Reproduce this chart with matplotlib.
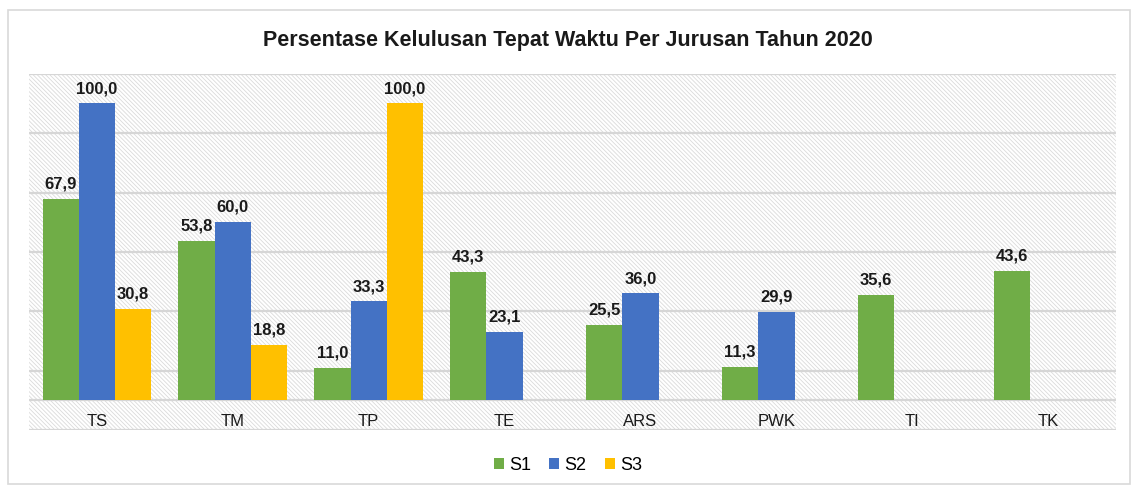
import numpy as np
import matplotlib.pyplot as plt
from matplotlib.patches import Rectangle

plt.rcParams['font.family'] = ['Liberation Sans', 'DejaVu Sans']
plt.rcParams['hatch.color'] = '#dadada'
plt.rcParams['hatch.linewidth'] = 0.6

jurusan = ['TS', 'TM', 'TP', 'TE', 'ARS', 'PWK', 'TI', 'TK']
s1 = [67.9, 53.8, 11.0, 43.3, 25.5, 11.3, 35.6, 43.6]
s2 = [100.0, 60.0, 33.3, 23.1, 36.0, 29.9, None, None]
s3 = [30.8, 18.8, 100.0, None, None, None, None, None]
seri = ['S1', 'S2', 'S3']
warna = ['#70ad47', '#4472c4', '#ffc000']

fig = plt.figure(figsize=(11.36, 4.9), dpi=100)
fig.patches.append(Rectangle((0.007, 0.012), 0.988, 0.968, transform=fig.transFigure,
                             fill=False, edgecolor='#d9d9d9', linewidth=1.2))
ax = fig.add_axes([0.0255, 0.1224, 0.957, 0.727])

# latar belakang bergaris miring
ax.add_patch(Rectangle((0, 0), 1, 1, transform=ax.transAxes, facecolor='white',
                       hatch='\\' * 8, edgecolor='#dadada', linewidth=0, zorder=0))

x = np.arange(len(jurusan))
w = 0.8 / 3
for k, data in enumerate([s1, s2, s3]):
    xs = [x[i] + (k - 1) * w for i in range(len(data)) if data[i] is not None]
    vals = [v for v in data if v is not None]
    ax.bar(xs, vals, width=w, color=warna[k], label=seri[k], zorder=3)
    for xi, v in zip(xs, vals):
        ax.text(xi, v + 2.5, f'{v:.1f}'.replace('.', ','), ha='center', va='bottom',
                fontsize=12, fontweight='bold', color='#1a1a1a', zorder=4)

for i, j in enumerate(jurusan):
    ax.text(x[i], -7.2, j, ha='center', va='center', fontsize=12, color='#1a1a1a')

ax.set_xlim(-0.5, len(jurusan) - 0.5)
ax.set_ylim(-10, 110)
ax.set_yticks(np.arange(-10, 111, 20))
ax.grid(axis='y', color='#d6d6d6', linewidth=1.6, zorder=1)
ax.axhline(0, color='#d6d6d6', linewidth=1.6, zorder=2)
ax.set_axisbelow(True)
ax.set_xticks([])
ax.tick_params(left=False, labelleft=False)
for s in ax.spines.values():
    s.set_visible(False)

fig.text(0.5, 0.918, 'Persentase Kelulusan Tepat Waktu Per Jurusan Tahun 2020',
         ha='center', va='center', fontsize=15.5, fontweight='bold', color='#1a1a1a')

fig.legend(loc='center', bbox_to_anchor=(0.5, 0.05), ncol=3, frameon=False,
           fontsize=13, handlelength=0.55, handleheight=0.55, handletextpad=0.3,
           columnspacing=1.0)

fig.savefig('out.png', dpi=100)
